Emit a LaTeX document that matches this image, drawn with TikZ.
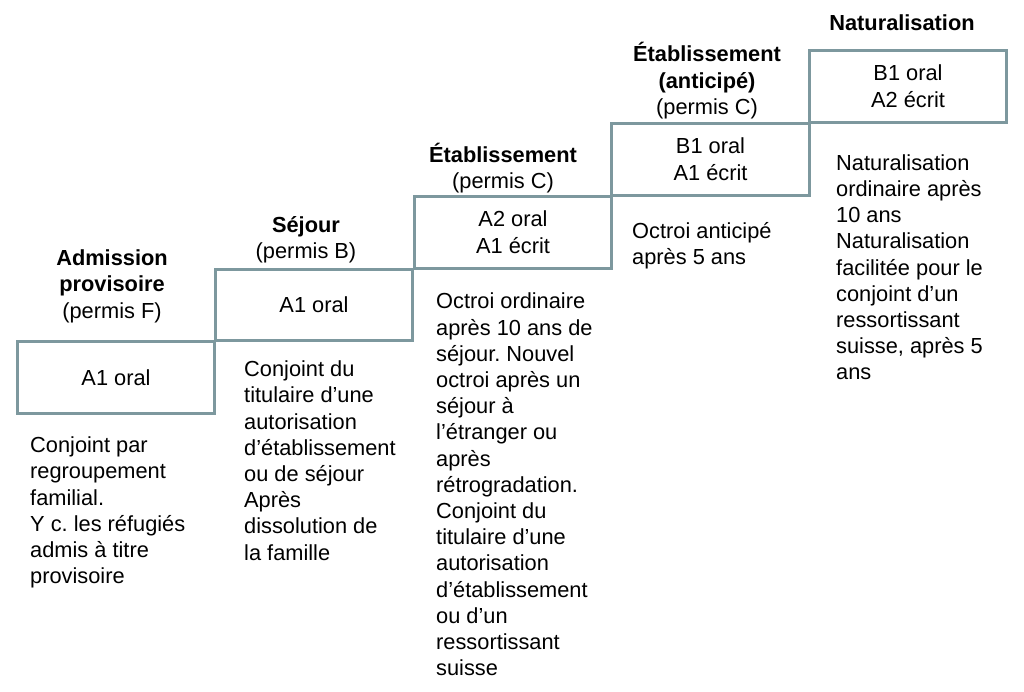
\documentclass[tikz,border=0pt]{standalone}
\usepackage{fontspec}
\setmainfont{Liberation Sans}
\frenchspacing
\definecolor{boxc}{RGB}{125,152,158}
\newcommand\firstln{\rule{0pt}{21.8pt}}
\tikzset{
  lvl/.style={draw=boxc, line width=3pt, minimum width=197.5pt, minimum height=71.5pt,
    inner sep=0pt, align=center, font=\fontsize{21.8}{26.6}\selectfont},
  ttl/.style={anchor=north, inner sep=0pt, align=center, font=\fontsize{21.8}{26.3}\selectfont},
  desc/.style={anchor=north west, inner sep=0pt, align=left, font=\fontsize{21.8}{26.2}\selectfont}
}
\begin{document}
\begin{tikzpicture}[x=1pt,y=-1pt]
\useasboundingbox (0,0) rectangle (1024,692);
% boxes
\node[lvl] (b1) at (116,377.5) {A1 oral};
\node[lvl] (b2) at (314,305) {A1 oral};
\node[lvl] (b3) at (513,232.5) {A2 oral\\A1 écrit};
\node[lvl] (b4) at (710.5,159.3) {B1 oral\\A1 écrit};
\node[lvl] (b5) at (908,86.5) {B1 oral\\A2 écrit};
% titles
\node[ttl] (t1) at (112,243.6) {\firstln\textbf{Admission}\\\textbf{provisoire}\\(permis F)};
\node[ttl] (t2) at (306,210.2) {\firstln\textbf{Séjour}\\(permis B)};
\node[ttl] (t3) at (503,140.2) {\firstln\textbf{Établissement}\\(permis C)};
\node[ttl] (t4) at (707,39.9) {\firstln\textbf{Établissement}\\\textbf{(anticipé)}\\(permis C)};
\node[ttl] (t5) at (902,8.2) {\firstln\textbf{Naturalisation}};
% descriptions
\node[desc] (d1) at (30,430.7) {\firstln Conjoint par\\regroupement\\familial.\\Y c. les réfugiés\\admis à titre\\provisoire};
\node[desc] (d2) at (244,354.7) {\firstln Conjoint du\\titulaire d’une\\autorisation\\d’établissement\\ou de séjour\\Après\\dissolution de\\la famille};
\node[desc] (d3) at (436,286.9) {\firstln Octroi ordinaire\\après 10 ans de\\séjour. Nouvel\\octroi après un\\séjour à\\l’étranger ou\\après\\rétrogradation.\\Conjoint du\\titulaire d’une\\autorisation\\d’établissement\\ou d’un\\ressortissant\\suisse};
\node[desc] (d4) at (632,216.5) {\firstln Octroi anticipé\\après 5 ans};
\node[desc] (d5) at (836,148.2) {\firstln Naturalisation\\ordinaire après\\10 ans\\Naturalisation\\facilitée pour le\\conjoint d’un\\ressortissant\\suisse, après 5\\ans};
\end{tikzpicture}
\end{document}
